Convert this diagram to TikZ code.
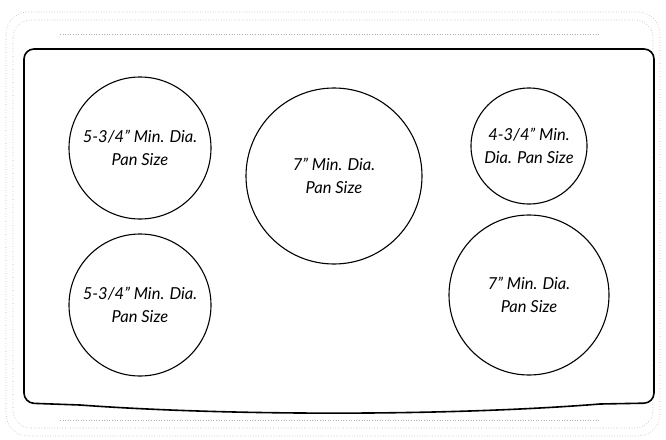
\documentclass[tikz,border=0pt]{standalone}
\usepackage{fontspec}
\setsansfont{Lato}
\begin{document}
\begin{tikzpicture}[x=1pt,y=-1pt,font=\sffamily\itshape,
    burner/.style={draw, circle, line width=1.1pt, inner sep=0pt, align=center, font=\sffamily\itshape\fontsize{16.5}{23}\selectfont},
    edgeshade/.style={draw=black!30, dotted, line width=0.6pt}]
        \useasboundingbox (0,0) rectangle (666,439);
        \begin{scope}
            % dotted edge of the glass
            \draw[edgeshade, rounded corners=22pt] (6,12) rectangle (660,436);
            \draw[edgeshade, rounded corners=18pt] (13,20) rectangle (653,428);
            \draw[edgeshade] (60,34) -- (600,34);
            \draw[edgeshade] (60,420) -- (600,420);

            % cooktop outline
            \draw[line width=1.6pt, rounded corners=10pt] (340,49) -- (654,49) -- (654,403) -- (600,404);
            \draw[line width=1.6pt] (600,404) .. controls (450,416) and (230,416) .. (80,405);
            \draw[line width=1.6pt, rounded corners=10pt] (80,405) -- (24,403) -- (24,49) -- (340,49);

            % burners
            \node[burner, minimum size=142pt] (lefttop) at (140,148) {5-3/4" Min. Dia.\\ Pan Size};
            \node[burner, minimum size=142pt] (leftbottom) at (140,305) {5-3/4" Min. Dia.\\ Pan Size};
            \node[burner, minimum size=176pt] (centre) at (334,176) {7" Min. Dia.\\ Pan Size};
            \node[burner, minimum size=116pt] (righttop) at (529,146) {4-3/4" Min.\\ Dia. Pan Size};
            \node[burner, minimum size=160pt] (rightbottom) at (529,295) {7" Min. Dia.\\ Pan Size};
        \end{scope}
\end{tikzpicture}
\end{document}
